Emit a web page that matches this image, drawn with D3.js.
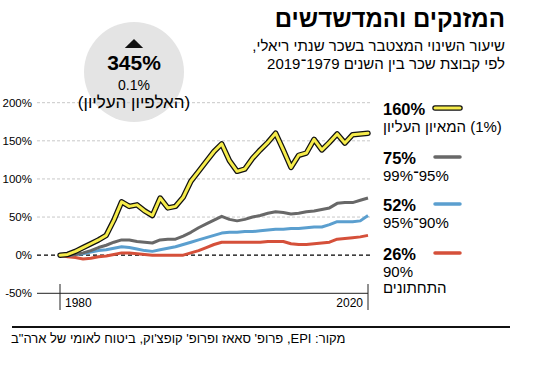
<!DOCTYPE html>
<html>
<head>
<meta charset="utf-8">
<script src="https://cdn.jsdelivr.net/npm/d3@7"></script>
<style>
  body { margin: 0; background: #fff; }
  svg { display: block; font-family: "Liberation Sans", Arial, "DejaVu Sans", sans-serif; }
</style>
</head>
<body>
<svg id="chart" width="550" height="367"></svg>
<script>
// Data: cumulative change in real annual wages since 1979, %
const years = d3.range(1979, 2020);

const top1 = [0, 1, 5, 10, 15, 20, 26, 46, 70, 64, 66, 58, 52, 75, 62, 64, 76, 97, 110, 123, 136, 146,
  124, 110, 113, 127, 138, 148, 160, 138, 115, 131, 134, 152, 138, 148, 159, 147, 158, 159, 160];
const p95to99 = [0, 0, 1, 3, 6, 10, 13, 17, 20, 20, 18, 17, 16, 20, 21, 21, 25, 30, 36, 41, 46, 51,
  47, 45, 47, 50, 52, 55, 57, 56, 54, 55, 57, 58, 60, 62, 68, 69, 69, 72, 75];
const p90to95 = [0, 0, 1, 2, 4, 6, 7, 9, 11, 10, 8, 6, 5, 7, 9, 11, 14, 17, 20, 23, 26, 29,
  30, 30, 31, 31, 32, 33, 34, 34, 35, 35, 36, 37, 37, 40, 44, 44, 44, 45, 52];
const bottom90 = [0, -2, -3, -5, -4, -2, -1, 1, 3, 3, 2, 1, 0, 0, 0, 0, 0, 3, 6, 10, 14, 17,
  17, 17, 17, 17, 17, 18, 18, 18, 15, 14, 14, 15, 16, 17, 21, 22, 23, 24, 26];

const seriesNames = ["bottom90", "p90to95", "p95to99", "top1"];
const seriesValues = [bottom90, p90to95, p95to99, top1];
const seriesColors = ["#d5503a", "#5b9fcf", "#686868", "#f6ec4b"];

const legendValues = ["160%", "75%", "52%", "26%"];
const legendLabels = [["(1%) המאיון העליון"], ["95%־99%"], ["90%־95%"], ["90%", "התחתונים"]];
const legendColors = ["#f6ec4b", "#686868", "#5b9fcf", "#d5503a"];

const yTicks = [-50, 0, 50, 100, 150, 200];
const xTickYears = [1979, 2019];
const xTickLabels = ["1980", "2020"];

const title = "המזנקים והמדשדשים";
const subtitle = ["שיעור השינוי המצטבר בשכר שנתי ריאלי,", "לפי קבוצת שכר בין השנים 1979־2019"];
const badge = { value: "345%", group: "0.1%", label: "(האלפיון העליון)" };
const source = "מקור: EPI, פרופ' סאאז ופרופ' קופצ'וק, ביטוח לאומי של ארה\"ב";

const svg = d3.select("#chart");

const x = d3.scaleLinear().domain([1979, 2019]).range([60, 368]);
const y = d3.scaleLinear().domain([-50, 200]).range([293.3, 102.7]);

// Badge circle sits under the grid
svg.append("circle")
  .attr("cx", 134).attr("cy", 72).attr("r", 50)
  .attr("fill", "#e4e4e4");

// Title block
svg.append("text")
  .attr("x", 505).attr("y", 27)
  .attr("direction", "rtl")
  .attr("text-anchor", "start")
  .style("font-size", "24px").style("font-weight", 900)
  .text(title);

svg.selectAll("text.sub")
  .data(subtitle)
  .join("text")
  .attr("class", "sub")
  .attr("x", 505).attr("y", (d, i) => 51 + i * 18)
  .attr("direction", "rtl")
  .attr("text-anchor", "start")
  .style("font-size", "15px")
  .text(d => d);

// Gridlines
svg.append("g")
  .selectAll("line")
  .data(yTicks)
  .join("line")
  .attr("x1", 37)
  .attr("x2", d => d === -50 ? 368 : 370)
  .attr("y1", d => y(d)).attr("y2", d => y(d))
  .attr("stroke", d => d === -50 ? "#222" : d === 0 ? "#000" : "#c8c8c8")
  .attr("stroke-width", d => d === 0 ? 1.2 : 1)
  .attr("stroke-dasharray", d => d === -50 ? null : d === 0 ? "4,3" : "3,2");

svg.append("g")
  .selectAll("text")
  .data(yTicks)
  .join("text")
  .attr("x", 32)
  .attr("y", d => y(d) + 4)
  .attr("text-anchor", "end")
  .style("font-size", "11.5px")
  .text(d => d + "%");

// X ticks at the ends
svg.append("g")
  .selectAll("line")
  .data(xTickYears)
  .join("line")
  .attr("x1", d => x(d)).attr("x2", d => x(d))
  .attr("y1", 284).attr("y2", 310)
  .attr("stroke", "#222").attr("stroke-width", 1);

svg.append("g")
  .selectAll("text")
  .data(xTickYears)
  .join("text")
  .attr("x", (d, i) => i === 0 ? x(d) + 5 : x(d) - 5)
  .attr("y", 307)
  .attr("text-anchor", (d, i) => i === 0 ? "start" : "end")
  .style("font-size", "12px")
  .text((d, i) => xTickLabels[i]);

// Lines
const line = d3.line()
  .x((d, i) => x(years[i]))
  .y(d => y(d));

const linesG = svg.append("g");
seriesValues.forEach((vals, k) => {
  const isTop = seriesNames[k] === "top1";
  if (isTop) {
    linesG.append("path")
      .attr("d", line(vals))
      .attr("fill", "none")
      .attr("stroke", "#111")
      .attr("stroke-width", 5.5)
      .attr("stroke-linejoin", "round")
      .attr("stroke-linecap", "round");
  }
  linesG.append("path")
    .attr("d", line(vals))
    .attr("fill", "none")
    .attr("stroke", seriesColors[k])
    .attr("stroke-width", 3)
    .attr("stroke-linejoin", "round")
    .attr("stroke-linecap", isTop ? "round" : "butt");
});

// Badge texts
const bt = svg.append("g");
bt.append("path")
  .attr("d", d3.symbol(d3.symbolTriangle, 80)())
  .attr("transform", "translate(134,45) scale(1.35,0.75)")
  .attr("fill", "#111");
bt.append("text")
  .attr("x", 134).attr("y", 70)
  .attr("text-anchor", "middle")
  .style("font-size", "21px").style("font-weight", "bold")
  .text(badge.value);
bt.append("text")
  .attr("x", 134).attr("y", 90)
  .attr("text-anchor", "middle")
  .style("font-size", "14px")
  .text(badge.group);
bt.append("text")
  .attr("x", 134).attr("y", 108)
  .attr("text-anchor", "middle")
  .attr("direction", "rtl")
  .style("font-size", "17px")
  .text(badge.label);

// Legend
const legendY = [115, 164, 211, 260];
const lg = svg.append("g");
legendValues.forEach((v, i) => {
  lg.append("text")
    .attr("x", 383).attr("y", legendY[i])
    .style("font-size", "16.5px").style("font-weight", "bold")
    .text(v);
  if (i === 0) {
    lg.append("line")
      .attr("x1", 435).attr("x2", 460)
      .attr("y1", legendY[i] - 7).attr("y2", legendY[i] - 7)
      .attr("stroke", "#111").attr("stroke-width", 5.5)
      .attr("stroke-linecap", "round");
  }
  lg.append("line")
    .attr("x1", 435).attr("x2", 460)
    .attr("y1", legendY[i] - 7).attr("y2", legendY[i] - 7)
    .attr("stroke", legendColors[i])
    .attr("stroke-width", i === 0 ? 3 : 3.5)
    .attr("stroke-linecap", "round");
  legendLabels[i].forEach((t, j) => {
    lg.append("text")
      .attr("x", 383).attr("y", legendY[i] + 17 + j * 16)
      .attr("direction", "rtl")
      .attr("text-anchor", "end")
      .style("font-size", "15px")
      .text(t);
  });
});

// Footer
svg.append("line")
  .attr("x1", 12).attr("x2", 510)
  .attr("y1", 327).attr("y2", 327)
  .attr("stroke", "#111").attr("stroke-width", 2);

svg.append("text")
  .attr("x", 11).attr("y", 343)
  .attr("direction", "rtl")
  .attr("text-anchor", "end")
  .style("font-size", "13px")
  .text(source);
</script>
</body>
</html>
